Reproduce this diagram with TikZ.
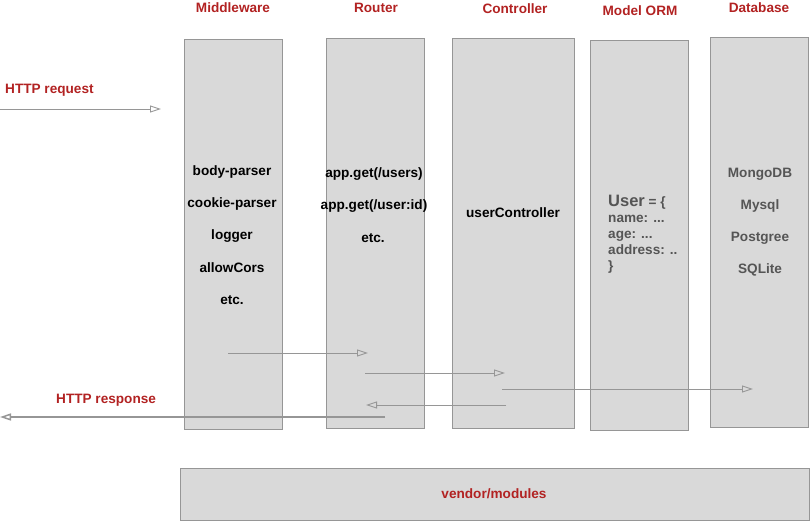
\documentclass[tikz,border=0pt]{standalone}
\usepackage{fontspec}
\setmainfont{Liberation Sans}
\usetikzlibrary{arrows.meta}
\definecolor{boxfill}{RGB}{217,217,217}
\definecolor{boxline}{RGB}{150,150,150}
\definecolor{titlered}{RGB}{178,34,34}
\definecolor{txtgray}{RGB}{85,85,85}
\definecolor{arrgray}{RGB}{150,150,150}
\tikzset{
  col/.style={draw=boxline, fill=boxfill, line width=0.9pt},
  ttl/.style={text=titlered, font=\fontsize{13.6}{16}\selectfont\bfseries},
  itm/.style={text=black, font=\fontsize{13.6}{16}\selectfont\bfseries},
  gitm/.style={text=txtgray, font=\fontsize{13.6}{16}\selectfont\bfseries},
  flow/.style={draw=arrgray, line width=0.9pt, -{Triangle[open,length=11pt,width=7pt]}},
}
\begin{document}
\begin{tikzpicture}[x=1pt,y=-1pt]
\useasboundingbox (0,0) rectangle (810,521);
% columns
\draw[col] (184,39) rectangle (282,429);
\draw[col] (326,38) rectangle (424,428);
\draw[col] (452,38) rectangle (574,428);
\draw[col] (590,40) rectangle (688,430);
\draw[col] (710,37) rectangle (808,427);
\draw[col] (180,468) rectangle (809,520);
\node[ttl] (vendor) at (494,494) {vendor/modules};
% titles
\node[ttl] (tmw) at (233,8) {Middleware};
\node[ttl] (trt) at (376,8) {Router};
\node[ttl] (tct) at (515,9) {Controller};
\node[ttl] (torm) at (640,11) {Model ORM};
\node[ttl] (tdb) at (759,8) {Database};
% middleware items
\node[itm] (m1) at (232,172) {body-parser};
\node[itm] (m2) at (232,204) {cookie-parser};
\node[itm] (m3) at (232,236) {logger};
\node[itm] (m4) at (232,268) {allowCors};
\node[itm] (m5) at (232,300) {etc.};
% router items
\node[itm] (r1) at (374,174) {app.get(/users)};
\node[itm] (r2) at (374,206) {app.get(/user:id)};
\node[itm] (r3) at (373,238) {etc.};
% controller
\node[itm] (c1) at (513,213) {userController};
% model
\node[gitm, anchor=north west, align=left, inner sep=0pt] (orm) at (608,195)
  {{\fontsize{16.5}{16}\selectfont User} {\fontsize{13.6}{16}\selectfont = \{}\\
   name: ...\\
   age: ...\\
   address: ..\\
   \}};
% database
\node[gitm] (d1) at (760,174) {MongoDB};
\node[gitm] (d2) at (760,206) {Mysql};
\node[gitm] (d3) at (760,238) {Postgree};
\node[gitm] (d4) at (760,270) {SQLite};
% HTTP labels
\node[ttl, anchor=west, inner sep=0pt] (req) at (5,90) {HTTP request};
\node[ttl, anchor=west, inner sep=0pt] (resp) at (56,400) {HTTP response};
% arrows
\coordinate (a0) at (0,109); \coordinate (a1) at (161,109);
\draw[flow] (a0) -- (a1);
\coordinate (b0) at (228,353); \coordinate (b1) at (368,353);
\draw[flow] (b0) -- (b1);
\coordinate (c0) at (365,373); \coordinate (c1e) at (505,373);
\draw[flow] (c0) -- (c1e);
\coordinate (e0) at (502,389); \coordinate (e1) at (753,389);
\draw[flow] (e0) -- (e1);
\coordinate (f0) at (506,405); \coordinate (f1) at (366,405);
\draw[flow] (f0) -- (f1);
\coordinate (g0) at (385,417); \coordinate (g1) at (0,417);
\draw[flow, line width=1.5pt] (g0) -- (g1);
\end{tikzpicture}
\end{document}
